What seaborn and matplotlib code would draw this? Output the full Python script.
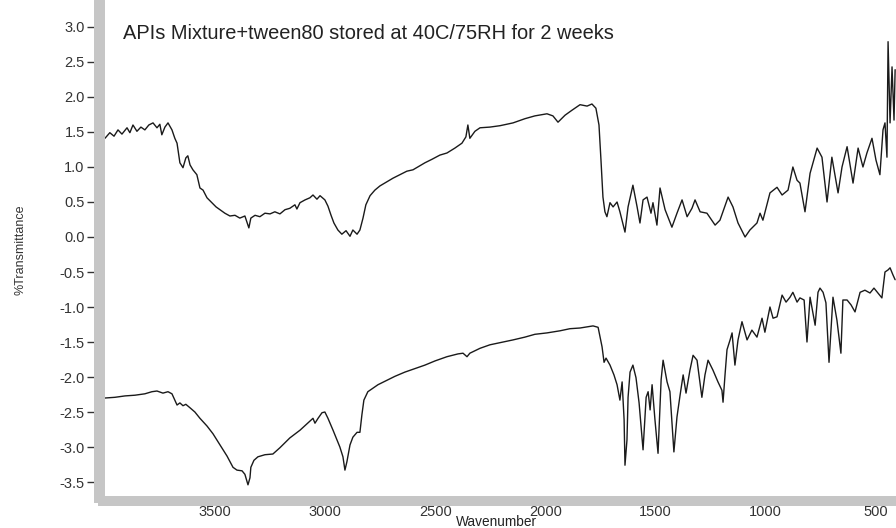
import numpy as np
import pandas as pd
import seaborn as sns
import matplotlib
matplotlib.use("Agg")
import matplotlib.pyplot as plt
from matplotlib.ticker import MultipleLocator

# ---- data (wavenumber, %Transmittance offset) ----
top_wn = [3999, 3977, 3958, 3940, 3922, 3899, 3886, 3872, 3854, 3836, 3818, 3800, 3781, 3763, 3750,
          3741, 3727, 3713, 3695, 3682, 3672, 3659, 3645, 3632, 3623, 3613, 3600, 3582, 3568, 3554,
          3536, 3514, 3495, 3477, 3455, 3432, 3409, 3387, 3364, 3346, 3337, 3318, 3296, 3273, 3250,
          3228, 3205, 3182, 3160, 3137, 3128, 3114, 3091, 3069, 3055, 3037, 3023, 3001, 2987, 2973,
          2960, 2942, 2924, 2905, 2887, 2874, 2855, 2842, 2828, 2815, 2796, 2774, 2751, 2719, 2692,
          2660, 2629, 2601, 2579, 2547, 2515, 2479, 2447, 2411, 2379, 2361, 2352, 2343, 2320, 2297,
          2252, 2206, 2147, 2093, 2048, 1993, 1966, 1943, 1911, 1880, 1843, 1811, 1789, 1771, 1757,
          1748, 1739, 1730, 1721, 1707, 1693, 1675, 1662, 1639, 1625, 1603, 1584, 1571, 1557, 1539,
          1521, 1512, 1494, 1480, 1457, 1426, 1403, 1380, 1357, 1335, 1321, 1298, 1267, 1230, 1208,
          1171, 1149, 1126, 1094, 1072, 1040, 1026, 1013, 981, 949, 926, 899, 877, 858, 845,
          822, 799, 767, 745, 722, 700, 672, 654, 631, 604, 581, 559, 541, 518, 500,
          482, 468, 459, 450, 445, 436, 427, 418, 413]
top_t = [1.41, 1.49, 1.44, 1.53, 1.47, 1.56, 1.49, 1.60, 1.51, 1.57, 1.53, 1.60, 1.63, 1.56, 1.61,
         1.46, 1.57, 1.63, 1.53, 1.41, 1.34, 1.06, 0.99, 1.13, 1.16, 1.03, 0.96, 0.89, 0.70, 0.67,
         0.56, 0.49, 0.43, 0.39, 0.34, 0.30, 0.31, 0.27, 0.30, 0.13, 0.27, 0.31, 0.29, 0.34, 0.33,
         0.36, 0.33, 0.39, 0.41, 0.46, 0.40, 0.49, 0.53, 0.56, 0.60, 0.54, 0.59, 0.53, 0.44, 0.31,
         0.20, 0.10, 0.04, 0.09, 0.01, 0.10, 0.04, 0.10, 0.27, 0.46, 0.59, 0.67, 0.73, 0.79, 0.84,
         0.89, 0.94, 0.96, 1.00, 1.06, 1.11, 1.17, 1.20, 1.27, 1.34, 1.43, 1.60, 1.41, 1.51, 1.56,
         1.57, 1.59, 1.63, 1.69, 1.73, 1.76, 1.73, 1.64, 1.74, 1.81, 1.89, 1.87, 1.90, 1.84, 1.60,
         1.10, 0.57, 0.36, 0.29, 0.49, 0.43, 0.50, 0.36, 0.07, 0.43, 0.74, 0.43, 0.20, 0.53, 0.57,
         0.34, 0.49, 0.17, 0.70, 0.39, 0.14, 0.34, 0.53, 0.29, 0.41, 0.53, 0.36, 0.34, 0.17, 0.24,
         0.57, 0.43, 0.20, 0.00, 0.10, 0.20, 0.34, 0.24, 0.63, 0.71, 0.60, 0.67, 1.00, 0.81, 0.77,
         0.36, 0.91, 1.27, 1.14, 0.50, 1.14, 0.63, 1.00, 1.29, 0.77, 1.27, 1.00, 1.20, 1.41, 1.10,
         0.89, 1.53, 1.63, 1.14, 2.79, 1.63, 2.43, 1.67, 2.39]

bottom_wn = [3999, 3954, 3908, 3863, 3818, 3786, 3763, 3736, 3713, 3695, 3682, 3672, 3659, 3645, 3632,
             3613, 3591, 3568, 3536, 3509, 3477, 3445, 3418, 3400, 3377, 3364, 3350, 3341, 3337, 3323,
             3305, 3273, 3237, 3205, 3160, 3114, 3069, 3055, 3046, 3032, 3014, 3001, 2987, 2964, 2946,
             2933, 2919, 2910, 2901, 2887, 2874, 2855, 2842, 2833, 2824, 2806, 2783, 2760, 2728, 2683,
             2638, 2601, 2547, 2501, 2447, 2397, 2374, 2356, 2343, 2297, 2252, 2206, 2147, 2093, 2048,
             1993, 1934, 1889, 1843, 1784, 1761, 1743, 1734, 1725, 1707, 1689, 1675, 1662, 1652, 1643,
             1639, 1630, 1625, 1616, 1603, 1589, 1575, 1557, 1543, 1534, 1525, 1516, 1503, 1489, 1475,
             1466, 1448, 1435, 1417, 1403, 1389, 1375, 1362, 1344, 1330, 1312, 1290, 1276, 1262, 1240,
             1217, 1199, 1194, 1185, 1176, 1162, 1153, 1140, 1126, 1108, 1094, 1085, 1063, 1040, 1017,
             1004, 981, 967, 949, 926, 908, 890, 877, 858, 845, 826, 813, 799, 776, 763,
             754, 740, 727, 713, 695, 677, 659, 650, 631, 613, 595, 572, 550, 527, 509,
             491, 473, 459, 445, 436, 423, 413]
bottom_t = [-2.30, -2.29, -2.27, -2.26, -2.24, -2.21, -2.20, -2.23, -2.21, -2.24, -2.33, -2.40, -2.37, -2.41, -2.39,
            -2.44, -2.50, -2.59, -2.70, -2.81, -2.97, -3.13, -3.29, -3.33, -3.34, -3.39, -3.54, -3.44, -3.29, -3.19,
            -3.14, -3.11, -3.10, -3.01, -2.87, -2.76, -2.63, -2.59, -2.66, -2.59, -2.51, -2.50, -2.59, -2.76, -2.90,
            -3.00, -3.14, -3.33, -3.21, -2.97, -2.86, -2.79, -2.79, -2.54, -2.33, -2.21, -2.16, -2.11, -2.06, -1.99,
            -1.93, -1.89, -1.83, -1.77, -1.71, -1.67, -1.66, -1.71, -1.66, -1.59, -1.54, -1.51, -1.47, -1.43, -1.39,
            -1.37, -1.34, -1.31, -1.30, -1.27, -1.29, -1.57, -1.79, -1.73, -1.83, -1.97, -2.11, -2.33, -2.07, -2.61,
            -3.26, -2.90, -2.29, -1.93, -1.83, -2.01, -2.37, -3.04, -2.29, -2.21, -2.47, -2.11, -2.61, -3.09, -2.04,
            -1.76, -2.07, -2.21, -3.07, -2.57, -2.26, -1.97, -2.23, -1.90, -1.69, -1.76, -2.29, -1.97, -1.76, -1.90,
            -2.07, -2.19, -2.36, -1.97, -1.61, -1.47, -1.37, -1.83, -1.47, -1.21, -1.37, -1.47, -1.33, -1.43, -1.16,
            -1.36, -1.00, -1.16, -1.14, -0.83, -0.93, -0.86, -0.79, -0.93, -0.87, -0.90, -1.50, -0.86, -1.26, -0.79,
            -0.73, -0.79, -0.94, -1.79, -0.86, -1.19, -1.66, -0.90, -0.90, -0.97, -1.07, -0.79, -0.76, -0.80, -0.73,
            -0.80, -0.87, -0.50, -0.47, -0.44, -0.54, -0.61]

title_text = "APIs Mixture+tween80 stored at 40C/75RH for 2 weeks"
x_label = "Wavenumber"
y_label = "%Transmittance"
x_ticks = [3500, 3000, 2500, 2000, 1500, 1000, 500]
y_ticks = [3.0, 2.5, 2.0, 1.5, 1.0, 0.5, 0.0, -0.5, -1.0, -1.5, -2.0, -2.5, -3.0, -3.5]

sns.set_style("white")
plt.rcParams['font.family'] = ['Liberation Sans', 'DejaVu Sans']

fig = plt.figure(figsize=(8.96, 5.28), dpi=100)
ax = fig.add_axes([103/896, 1 - 497/528, 1 - 103/896, 492/528])

df_top = pd.DataFrame({"wn": top_wn, "t": top_t})
df_bot = pd.DataFrame({"wn": bottom_wn, "t": bottom_t})
sns.lineplot(data=df_top, x="wn", y="t", ax=ax, color="#1a1a1a", linewidth=1.0,
             estimator=None, sort=False)
sns.lineplot(data=df_bot, x="wn", y="t", ax=ax, color="#1a1a1a", linewidth=1.0,
             estimator=None, sort=False)

ax.set_xlim(4008, 409)
ax.set_ylim(-3.714, 3.314)

band = "#c6c6c6"
for s in ["top", "right"]:
    ax.spines[s].set_visible(False)
ax.spines["left"].set_color(band)
ax.spines["left"].set_linewidth(7.9)
ax.spines["left"].set_position(("outward", 3.2))
ax.spines["bottom"].set_color(band)
ax.spines["bottom"].set_linewidth(7.2)
ax.spines["bottom"].set_position(("outward", 2.9))

ax.set_yticks(y_ticks)
ax.set_yticklabels([f"{v:.1f}" for v in y_ticks])
ax.set_xticks(x_ticks)
ax.set_xticklabels([str(v) for v in x_ticks])
ax.xaxis.set_minor_locator(MultipleLocator(100))

ax.tick_params(axis="y", which="major", direction="out", length=9, width=1.0,
               color="#333333", labelsize=10.5, labelcolor="#333333", pad=1, left=True)
ax.tick_params(axis="x", which="major", direction="inout", length=5, width=1.0,
               color="#444444", labelsize=10.5, labelcolor="#333333", pad=0.5, bottom=True)
ax.tick_params(axis="x", which="minor", direction="inout", length=3, width=1.0,
               color="#555555", bottom=True)

ax.set_xlabel("")
ax.set_ylabel("")
fig.text(496/896, 1 - 522/528, x_label, ha="center", va="center", fontsize=9.8,
         color="#222222")
fig.text(21/896, 1 - 250/528, y_label, ha="center", va="center", rotation=90,
         fontsize=9, color="#333333")
ax.text(0.0252, 0.943, title_text, transform=ax.transAxes, ha="left", va="center",
        fontsize=14.4, color="#222222")

fig.savefig("out.png", dpi=100, facecolor="white")
